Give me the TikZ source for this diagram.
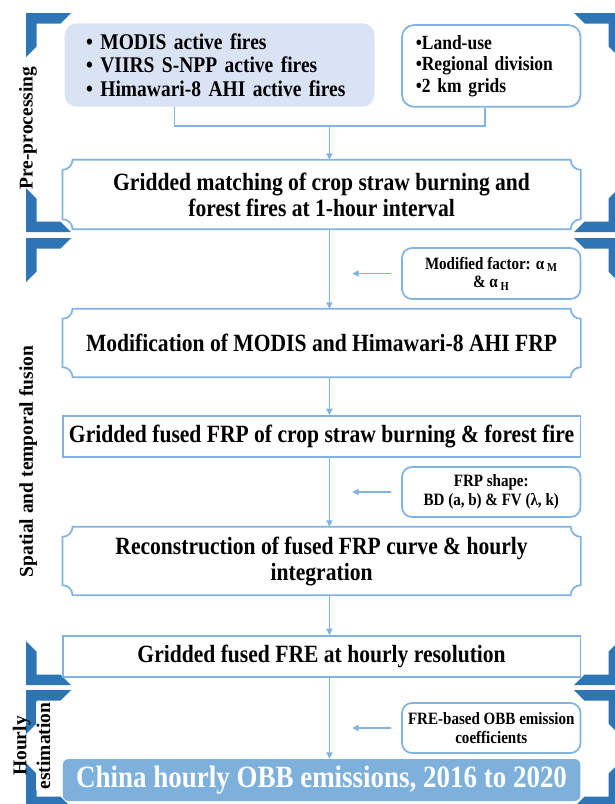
\documentclass[tikz,border=0pt]{standalone}
\usepackage{fontspec}
\setmainfont{Liberation Serif}[FakeStretch=0.87]
\newfontfamily\labelfont{Liberation Serif}
\usetikzlibrary{arrows.meta}
\definecolor{frameblue}{HTML}{2E75B6}
\definecolor{lineblue}{HTML}{80B3E1}
\definecolor{fillA}{HTML}{DAE3F3}
\definecolor{fillJ}{HTML}{7DB0DB}
\tikzset{
  framecorner/.pic={\fill[frameblue] (0,0) -- (45,0) -- (34.5,-10.5) -- (10.5,-10.5) -- (10.5,-33.5) -- (0,-44) -- cycle;},
  boxline/.style={draw=lineblue, line width=1.7pt},
  link/.style={draw=lineblue, line width=1.7pt},
  flow/.style={draw=lineblue, line width=1.7pt, -{Triangle[length=6.5pt,width=6pt]}},
  mainbox/.style={minimum width=517.7pt, inner sep=0pt, align=center, font=\bfseries\fontsize{24.8}{26}\selectfont},
  plainbox/.style={mainbox, boxline},
  sidebox/.style={boxline, rounded corners=10pt, minimum width=178.5pt, inner sep=0pt, align=center, font=\bfseries\fontsize{17.3}{18.5}\selectfont},
  sidelabel/.style={rotate=90, inner sep=1pt, font=\labelfont\bfseries\fontsize{19.5}{24}\selectfont},
}
\newcommand\plaqueborder[1]{%
  \draw[boxline] ([xshift=10pt]#1.north west) -- ([xshift=-10pt]#1.north east)
    arc[start angle=180,end angle=270,radius=10pt]
    -- ([yshift=10pt]#1.south east)
    arc[start angle=90,end angle=180,radius=10pt]
    -- ([xshift=10pt]#1.south west)
    arc[start angle=0,end angle=90,radius=10pt]
    -- ([yshift=-10pt]#1.north west)
    arc[start angle=270,end angle=360,radius=10pt] -- cycle;}
\begin{document}
\begin{tikzpicture}[x=1pt,y=1pt]
\useasboundingbox (0,0) rectangle (615,-804);
\clip (0,0) rectangle (615,-804);
% section frames
\foreach \yt/\yb in {13/232, 238/685, 690/807}{
  \pic at (26,-\yt) {framecorner};
  \pic[yscale=-1] at (26,-\yb) {framecorner};
  \pic[xscale=-1] at (619,-\yt) {framecorner};
  \pic[xscale=-1,yscale=-1] at (619,-\yb) {framecorner};
}
% top boxes
\node[fill=fillA, rounded corners=12pt, minimum width=309.8pt, minimum height=83.4pt,
      inner xsep=21.3pt, inner ysep=0pt, text width=267pt, align=left,
      font=\bfseries\fontsize{22.4}{23.5}\selectfont] (A) at (219.6,-65)
  {\textbullet{} MODIS active fires\\ \textbullet{} VIIRS S-NPP active fires\\ \textbullet{} Himawari-8 AHI active fires};
\node[boxline, rounded corners=12pt, minimum width=178.5pt, minimum height=81.7pt,
      inner xsep=13.7pt, inner ysep=0pt, text width=151pt, align=left,
      font=\bfseries\fontsize{20.1}{21.5}\selectfont] (B) at (491.25,-65.9)
  {\textbullet Land-use\\\textbullet Regional division\\\textbullet 2 km grids};
\coordinate (join) at (329.4,-126);
% main chain
\node[mainbox, minimum height=69pt] (C) at (321.6,-194.5)
  {Gridded matching of crop straw burning and\\forest fires at 1-hour interval};
\plaqueborder{C}
\node[mainbox, minimum height=68pt] (D) at (321.6,-343)
  {Modification of MODIS and Himawari-8 AHI FRP};
\plaqueborder{D}
\node[plainbox, minimum height=41pt] (F) at (321.6,-436.5)
  {Gridded fused FRP of crop straw burning \& forest fire};
\node[mainbox, minimum height=68pt] (G) at (321.6,-561)
  {Reconstruction of fused FRP curve \& hourly\\integration};
\plaqueborder{G}
\node[plainbox, minimum height=41pt] (I) at (321.6,-656.5)
  {Gridded fused FRE at hourly resolution};
\node[mainbox, fill=fillJ, rounded corners=6pt, minimum height=42pt, text=white,
      font=\bfseries\fontsize{31}{32}\selectfont] (J) at (321.6,-780)
  {China hourly OBB emissions, 2016 to 2020};
% side boxes
\node[sidebox, minimum height=51pt] (E) at (491.25,-273.5)
  {Modified factor: α\,\textsubscript{M}\\\& α\,\textsubscript{H}};
\node[sidebox, minimum height=50pt] (H) at (491.25,-492)
  {FRP shape:\\BD (a, b) \& FV (λ, k)};
\node[sidebox, minimum height=50pt] (K) at (491.25,-728)
  {FRE-based OBB emission\\coefficients};
% connectors
\draw[link] ([xshift=-45.1pt]A.south) |- (join) -| ([xshift=-6.25pt]B.south);
\draw[flow] (join) -- (join |- C.north);
\draw[flow] (join |- C.south) -- (join |- D.north);
\draw[flow] (join |- D.south) -- (join |- F.north);
\draw[flow] (join |- F.south) -- (join |- G.north);
\draw[flow] (join |- G.south) -- (join |- I.north);
\draw[flow] (join |- I.south) -- (join |- J.north);
\draw[flow] ([xshift=-10pt]E.west) -- ++(-39pt,0);
\draw[flow] ([xshift=-10pt]H.west) -- ++(-39pt,0);
\draw[flow] ([xshift=-10pt]K.west) -- ++(-39pt,0);
% side labels
\node[sidelabel] (lab1) at (28,-128) {Pre-processing};
\node[sidelabel] (lab2) at (28,-461.5) {Spatial and temporal fusion};
\node[sidelabel] (lab3a) at (21.8,-746) {Hourly};
\node[sidelabel, fill=white] (lab3b) at (43.4,-746) {estimation};
\end{tikzpicture}
\end{document}
